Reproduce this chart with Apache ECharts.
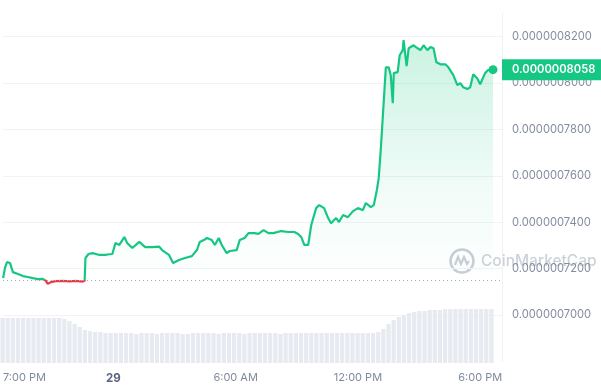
<!DOCTYPE html>
<html>
<head>
<meta charset="utf-8">
<script src="https://cdn.jsdelivr.net/npm/echarts@6/dist/echarts.min.js"></script>
<style>
html,body{margin:0;padding:0;background:#fff;}
#chart{width:601px;height:389px;}
</style>
</head>
<body>
<div id="chart"></div>
<script>
// Price in units of 1e-10 USD; time in hours from 00:00 on the 28th
const times = [18.59,18.68,18.78,18.93,19.07,19.32,19.56,19.80,20.05,20.29,20.54,20.68,20.78,20.93,21.17,21.51,21.85,22.15,22.49,22.59,
  22.63,22.78,22.98,23.32,23.61,23.80,23.95,24.10,24.29,24.54,24.68,24.93,25.27,25.56,25.90,26.24,26.39,26.73,26.93,27.22,
  27.51,27.85,28.10,28.24,28.44,28.59,28.83,28.98,29.17,29.32,29.56,29.71,30.05,30.20,30.44,30.63,30.93,31.12,31.37,31.61,
  31.85,32.24,32.59,32.88,33.07,33.22,33.37,33.56,33.71,33.95,34.10,34.34,34.54,34.68,34.93,35.07,35.27,35.51,35.76,36.00,
  36.24,36.39,36.63,36.78,36.93,37.02,37.12,37.22,37.37,37.51,37.61,37.71,37.76,37.95,38.05,38.20,38.24,38.39,38.49,38.73,
  38.93,39.07,39.22,39.41,39.56,39.71,39.85,40.05,40.29,40.44,40.68,40.88,41.02,41.17,41.37,41.51,41.66,41.85,42.00,42.24,
  42.39,42.63];
const prices = [7159,7203,7228,7224,7185,7177,7168,7164,7159,7155,7156,7148,7134,7142,7146,7147,7145,7147,7144,7148,
  7246,7263,7267,7259,7259,7262,7263,7310,7302,7336,7310,7289,7315,7293,7293,7295,7280,7259,7224,7237,
  7246,7254,7280,7315,7323,7332,7323,7302,7332,7302,7267,7276,7280,7323,7332,7353,7353,7350,7366,7353,
  7353,7362,7358,7358,7349,7336,7302,7302,7388,7461,7474,7461,7418,7396,7418,7401,7431,7422,7448,7461,
  7452,7483,7465,7474,7539,7590,7711,7853,8068,8068,8034,7913,8043,8047,8120,8142,8185,8073,8150,8163,
  8150,8142,8163,8142,8155,8150,8090,8081,8081,8068,8034,7991,8000,7982,7974,7982,8038,8021,7995,8043,
  8056,8058];
const openPrice = 7150;

const volTimes = ['18:35','18:50',
  '19:05','19:20','19:35','19:50','20:05','20:20','20:35','20:50','21:05','21:20','21:35','21:50',
  '22:05','22:20','22:35','22:50','23:05','23:20','23:35','23:50',
  '00:05','00:20','00:35','00:50','01:05','01:20','01:35','01:50','02:05','02:20','02:35','02:50',
  '03:05','03:20','03:35','03:50','04:05','04:20','04:35','04:50','05:05','05:20','05:35','05:50',
  '06:05','06:20','06:35','06:50','07:05','07:20','07:35','07:50','08:05','08:20','08:35','08:50',
  '09:05','09:20','09:35','09:50','10:05','10:20','10:35','10:50','11:05','11:20','11:35','11:50',
  '12:05','12:20','12:35','12:50','13:05','13:20','13:35','13:50','14:05','14:20','14:35','14:50',
  '15:05','15:20','15:35','15:50','16:05','16:20','16:35','16:50','17:05','17:20','17:35','17:50',
  '18:05','18:20'];
const volumes = [45,45,45,45,45,45,45,45,45,45,45,45,44,42,39,36,33,32,31,31,
  30,30,30,30,30,30,29,30,30,30,29,30,30,30,30,29,29,30,30,30,
  30,30,29,30,30,30,30,29,30,30,30,30,30,30,29,30,30,30,30,30,
  30,30,30,30,30,30,30,30,30,30,30,30,30,31,34,39,43,46,48,50,
  51,52,52,53,53,53,54,54,54,54,54,54,54,54,54,54];

const xTickValues = [19,24,30,36,42];
const xTickLabels = ['7:00 PM','29','6:00 AM','12:00 PM','6:00 PM'];

const GREEN = '#16c784', RED = '#ea3943';
const linePoints = times.map((t,i)=> i === times.length-1
  ? {value:[t,prices[i]], symbol:'circle', symbolSize:9}
  : [t,prices[i]]);
const fmt = v => (v/1e10).toFixed(10);
const last = prices[prices.length-1];
const GL = '#f1f3f6';

const chart = echarts.init(document.getElementById('chart'), null, {renderer:'canvas'});
chart.setOption({
  animation:false,
  backgroundColor:'#fff',
  textStyle:{fontFamily:'Inter'},
  grid:[
    {left:0, right:99, top:13.5, bottom:27.6},
    {left:0, right:107, top:300, bottom:26}
  ],
  xAxis:[
    {type:'value', gridIndex:0, min:18.585, max:43.07,
     axisLine:{show:false}, axisTick:{show:false}, splitLine:{show:false},
     axisLabel:{customValues:xTickValues, margin:11, fontSize:11, color:'#808a9d',
       formatter:(v)=>{
         const i = xTickValues.indexOf(v);
         const s = i>=0 ? xTickLabels[i] : '';
         if (i===0) return '{first|'+s+'}';
         if (s==='29') return '{day|'+s+'}';
         return s;
       },
       rich:{first:{padding:[0,0,0,26], fontSize:11, color:'#808a9d', fontFamily:'Inter'},
             day:{fontWeight:'bold', fontSize:11.5, color:'#58667e', fontFamily:'Inter'}}}},
    {type:'category', gridIndex:1, data:volTimes, show:false, boundaryGap:true}
  ],
  yAxis:[
    {type:'value', gridIndex:0, position:'right', min:6800, max:8300, interval:200,
     axisLine:{show:true, lineStyle:{color:'#eff2f5'}}, axisTick:{show:false},
     splitLine:{show:true, lineStyle:{color:['rgba(0,0,0,0)',GL,GL,GL,GL,GL,GL,GL,'rgba(0,0,0,0)']}},
     axisLabel:{showMinLabel:false, showMaxLabel:false, margin:10, fontSize:11.2, color:'#858ca0', formatter:fmt}},
    {type:'value', gridIndex:1, min:0, max:63, show:false}
  ],
  visualMap:{show:false, type:'piecewise', seriesIndex:0, dimension:1,
    pieces:[{gt:0, lt:openPrice, color:RED}], outOfRange:{color:GREEN}},
  series:[
    {type:'line', xAxisIndex:0, yAxisIndex:0, data:linePoints, symbol:'none',
     lineStyle:{width:2.2}, itemStyle:{color:GREEN},
     areaStyle:{origin:openPrice, color:new echarts.graphic.LinearGradient(0,0,0,1,[
       {offset:0, color:'rgba(22,199,132,0.32)'},
       {offset:0.6, color:'rgba(22,199,132,0.09)'},
       {offset:1, color:'rgba(22,199,132,0.0)'}])},
     markLine:{silent:true, symbol:['none','none'], animation:false,
       data:[
         {yAxis:openPrice, lineStyle:{type:[1,3], color:'#a6acb9', width:1}, label:{show:false}},
         {yAxis:last, lineStyle:{color:'rgba(0,0,0,0)', width:1},
          label:{show:true, position:'end', distance:0, formatter:()=>fmt(last),
            backgroundColor:GREEN, color:'#fff', fontWeight:600, fontSize:11.2, fontFamily:'Inter',
            padding:[5,20,5,10]}}
       ]}},
    {type:'bar', xAxisIndex:1, yAxisIndex:1, data:volumes, barCategoryGap:'18%',
     itemStyle:{color:'#e7eaf0'}, silent:true}
  ],
  graphic:[
    {type:'group', left:448, top:247, silent:true, children:[
      {type:'circle', shape:{cx:13, cy:13, r:11.5}, style:{fill:'none', stroke:'#c9ced6', lineWidth:2.5}},
      {type:'polyline', shape:{points:[[6,17],[9,9],[12,16],[15,9],[18,16],[20,13]]}, style:{fill:'none', stroke:'#c9ced6', lineWidth:2.2}},
      {type:'text', style:{x:32, y:13, text:'CoinMarketCap', font:'500 15.5px Inter', fill:'#cdd2da', verticalAlign:'middle'}}
    ]}
  ]
});
</script>
</body>
</html>
